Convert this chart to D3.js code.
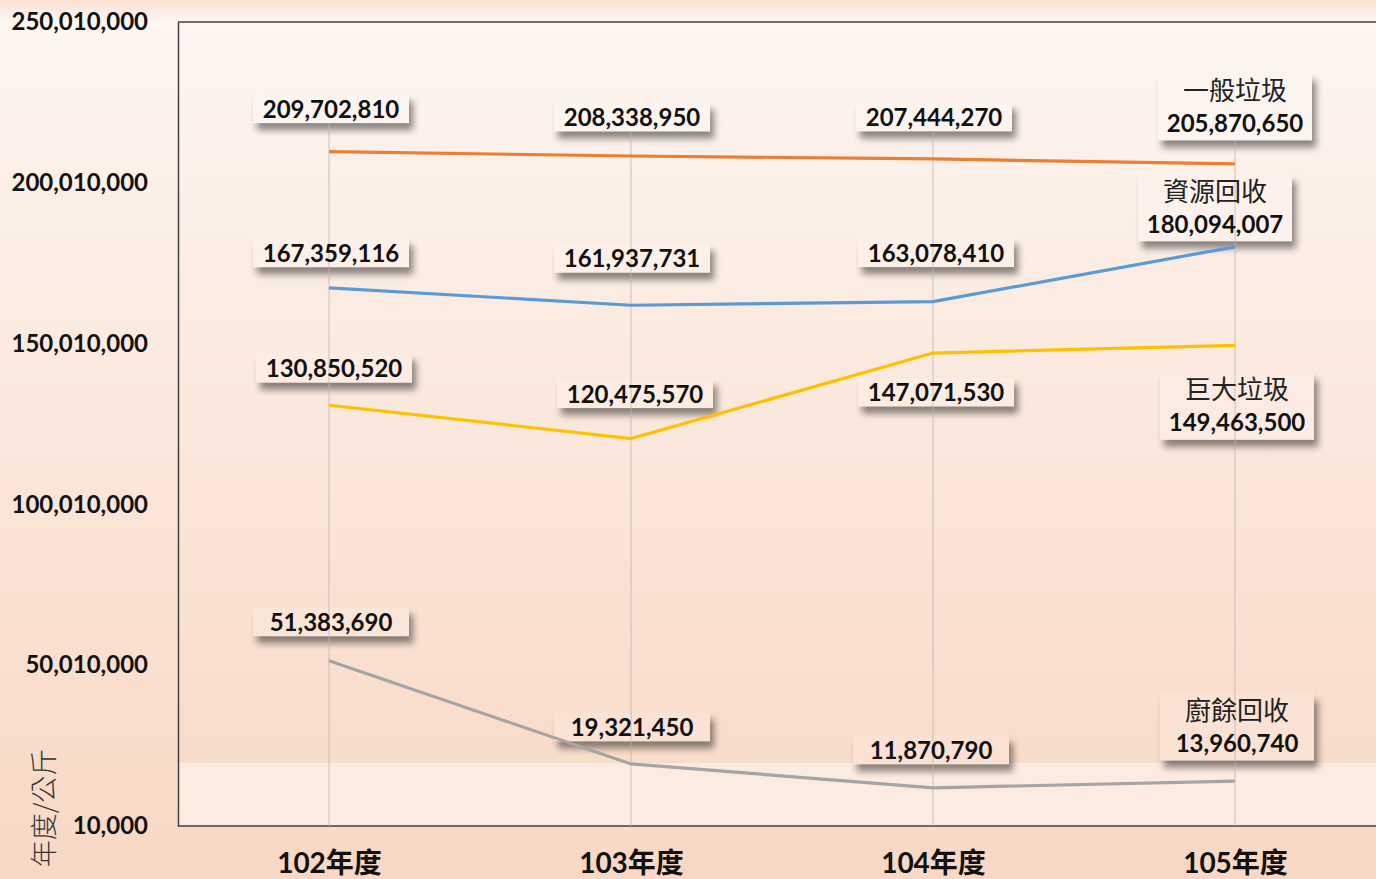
<!DOCTYPE html>
<html>
<head>
<meta charset="utf-8">
<script src="https://cdn.jsdelivr.net/npm/d3@7"></script>
<style>
  html, body { margin: 0; padding: 0; overflow: hidden; }
  svg { display: block; }
</style>
</head>
<body>
<svg id="chart" width="1376" height="879"></svg>
<script>
// 資料
const years = ['102年度', '103年度', '104年度', '105年度'];
const seriesNames = ['一般垃圾', '資源回收', '巨大垃圾', '廚餘回收'];
const generalWaste = [209702810, 208338950, 207444270, 205870650];
const recycling = [167359116, 161937731, 163078410, 180094007];
const bulkyWaste = [130850520, 120475570, 147071530, 149463500];
const foodWaste = [51383690, 19321450, 11870790, 13960740];
const yTicks = [10000, 50010000, 100010000, 150010000, 200010000, 250010000];

const seriesValues = [generalWaste, recycling, bulkyWaste, foodWaste];
const colors = ['#ED7D31', '#5B9BD5', '#FFC000', '#A5A5A5'];

// 標籤位置 (相對於資料點的偏移)
const labelDx = [[2, 1, 1, 0], [2, 1, 3, -20], [5, 4, 3, 2], [2, 1, -2, 2]];
const labelDy = [[-43, -39, -42, -57], [-35, -47, -49, -39], [-37, -45, 39, 61], [-39, -37, -38, -54]];

const W = 1376, H = 879;
const plotLeft = 178, plotTop = 22, plotBottom = 826;
const svg = d3.select('#chart');
const defs = svg.append('defs');

const bgTop = '#fdf6f2', bgBottom = '#f8d8c4';
const bg = defs.append('linearGradient').attr('id', 'bg')
    .attr('x1', 0).attr('y1', 0).attr('x2', 0).attr('y2', 1);
bg.append('stop').attr('offset', 0).attr('stop-color', bgTop);
bg.append('stop').attr('offset', 1).attr('stop-color', bgBottom);
const bgColorAt = yy => d3.interpolateRgb(bgTop, bgBottom)(yy / H);

const blur = defs.append('filter').attr('id', 'blur')
    .attr('x', '-20%').attr('y', '-40%').attr('width', '140%').attr('height', '180%');
blur.append('feGaussianBlur').attr('stdDeviation', 3.5);

svg.append('rect').attr('width', W).attr('height', H).attr('fill', 'url(#bg)');

// 頂端淡橘光暈
const glow = defs.append('linearGradient').attr('id', 'glow')
    .attr('x1', 0).attr('y1', 0).attr('x2', 0).attr('y2', 1);
glow.append('stop').attr('offset', 0).attr('stop-color', '#f6c6a6').attr('stop-opacity', 0.45);
glow.append('stop').attr('offset', 1).attr('stop-color', '#f6c6a6').attr('stop-opacity', 0);
svg.append('rect').attr('x', 0).attr('y', 0).attr('width', W).attr('height', 20).attr('fill', 'url(#glow)');

// 比例尺
const x = d3.scalePoint().domain(years).range([plotLeft + 151, plotLeft + 151 + 3 * 302]);
const y = d3.scaleLinear().domain([10000, 250010000]).range([plotBottom, plotTop]);

// 繪圖區底部淺色帶
svg.append('rect').attr('x', plotLeft).attr('y', 763).attr('width', W - plotLeft).attr('height', plotBottom - 763)
    .attr('fill', '#fcebe0');

// Y 軸
const yAxis = svg.append('g').attr('transform', `translate(${plotLeft},0)`)
    .call(d3.axisLeft(y).tickValues(yTicks).tickFormat(d3.format(',')).tickSize(0).tickPadding(30));
yAxis.select('.domain').attr('stroke', '#404040').attr('stroke-width', 1.5);
yAxis.selectAll('text').attr('font-family', 'Lato, "Noto Sans CJK TC"').attr('font-weight', 'bold')
    .attr('font-size', 24).attr('fill', '#111');

// X 軸
const xAxis = svg.append('g').attr('transform', `translate(0,${plotBottom})`)
    .call(d3.axisBottom(x).tickSize(0).tickPadding(27));
xAxis.select('.domain').attr('d', `M${plotLeft},0H${W}`).attr('stroke', '#404040').attr('stroke-width', 1.5);
xAxis.selectAll('text').attr('font-family', 'Lato, "Noto Sans CJK TC"').attr('font-weight', 'bold')
    .attr('font-size', 28).attr('fill', '#111');

// 上框線
svg.append('line').attr('x1', plotLeft).attr('x2', W).attr('y1', plotTop).attr('y2', plotTop)
    .attr('stroke', '#404040').attr('stroke-width', 1.5);

// 軸標題
svg.append('text').attr('transform', 'translate(54,808) rotate(-90)')
    .attr('text-anchor', 'middle').attr('font-family', '"Noto Sans CJK TC"').attr('font-weight', 300)
    .attr('font-size', 27).attr('fill', '#333').text('年度/公斤');

// 標籤資料
const labels = [];
seriesValues.forEach((vals, si) => {
    vals.forEach((v, i) => {
        const last = i === years.length - 1;
        labels.push({
            si, i, v, last,
            cx: x(years[i]) + labelDx[si][i],
            cy: y(v) + labelDy[si][i],
            w: last ? 154 : 156,
            h: last ? 67 : 29
        });
    });
});

const numFont = 'Lato, "Noto Sans CJK TC"';
const gLabels = svg.append('g');

// 陰影
gLabels.selectAll('rect.shadow').data(labels).join('rect')
    .attr('class', 'shadow')
    .attr('x', d => d.cx - d.w / 2 + 4).attr('y', d => d.cy - d.h / 2 + 7)
    .attr('width', d => d.w).attr('height', d => d.h)
    .attr('fill', '#000').attr('opacity', 0.45).attr('filter', 'url(#blur)');

// 標籤框
gLabels.selectAll('rect.box').data(labels).join('rect')
    .attr('class', 'box')
    .attr('x', d => d.cx - d.w / 2).attr('y', d => d.cy - d.h / 2)
    .attr('width', d => d.w).attr('height', d => d.h)
    .attr('fill', d => d3.interpolateRgb(bgColorAt(d.cy), '#ffffff')(0.15));

// 垂直格線
years.forEach((yr, i) => {
    const tops = labels.filter(d => d.i === i).map(d => d.cy + d.h / 2);
    svg.append('line')
        .attr('x1', x(yr)).attr('x2', x(yr))
        .attr('y1', d3.min(tops)).attr('y2', plotBottom)
        .attr('stroke', '#bfb5ae').attr('stroke-width', 1).attr('opacity', 0.8);
});

// 折線
const line = d3.line().x((d, i) => x(years[i])).y(d => y(d));
seriesValues.forEach((vals, si) => {
    svg.append('path').datum(vals)
        .attr('d', line).attr('fill', 'none')
        .attr('stroke', colors[si]).attr('stroke-width', 3.2);
});

// 標籤文字
labels.forEach(d => {
    const t = svg.append('g');
    if (d.last) {
        t.append('text').attr('x', d.cx).attr('y', d.cy - 7)
            .attr('text-anchor', 'middle').attr('font-family', '"Noto Sans CJK TC"')
            .attr('font-size', 26).attr('fill', '#222').text(seriesNames[d.si]);
        t.append('text').attr('x', d.cx).attr('y', d.cy + 25)
            .attr('text-anchor', 'middle').attr('font-family', numFont).attr('font-weight', 'bold')
            .attr('font-size', 24).attr('fill', '#111').text(d3.format(',')(d.v));
    } else {
        t.append('text').attr('x', d.cx).attr('y', d.cy + 9)
            .attr('text-anchor', 'middle').attr('font-family', numFont).attr('font-weight', 'bold')
            .attr('font-size', 24).attr('fill', '#111').text(d3.format(',')(d.v));
    }
});
</script>
</body>
</html>
